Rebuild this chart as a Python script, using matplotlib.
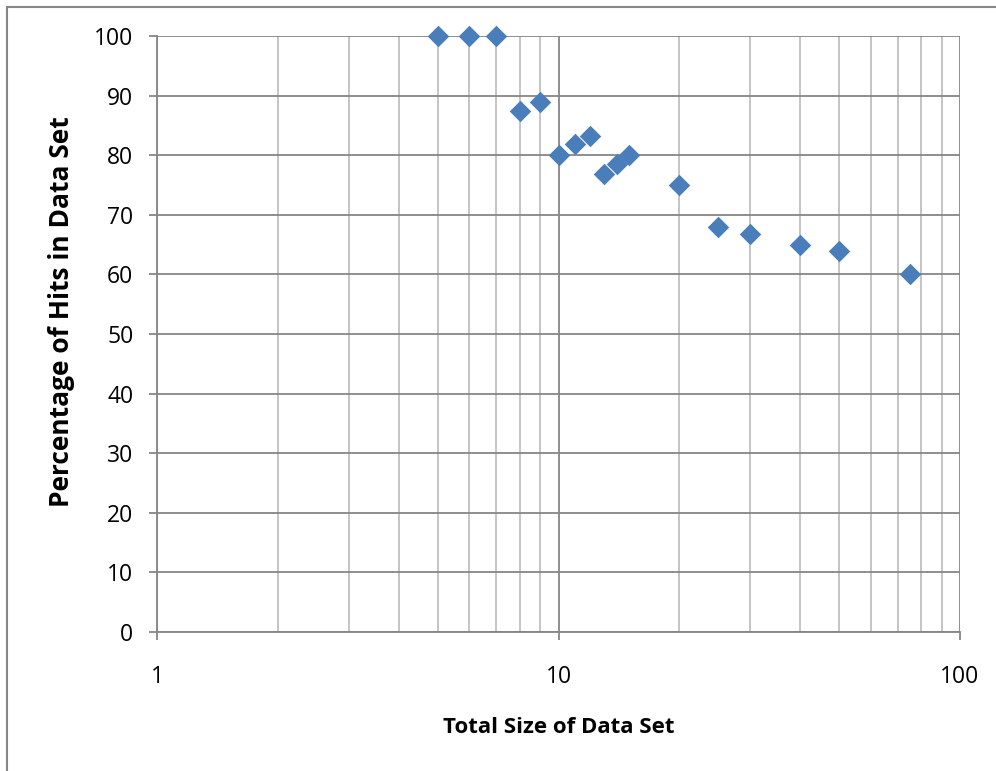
import matplotlib.pyplot as plt
from matplotlib.patches import Rectangle
from matplotlib.ticker import LogLocator, FixedLocator, NullFormatter

# ======== Data ========
total_size = [5, 6, 7, 8, 9, 10, 11, 12, 13, 14, 15, 20, 25, 30, 40, 50, 75]
pct_hits = [100, 100, 100, 87.5, 88.9, 80, 81.8, 83.3, 76.9, 78.6, 80, 75, 68, 66.7, 65, 64, 60]
x_ticks = [1, 10, 100]
x_tick_labels = ["1", "10", "100"]
y_ticks = list(range(0, 101, 10))

plt.rcParams['font.family'] = ['Open Sans', 'DejaVu Sans']

fig = plt.figure(figsize=(9.96, 7.71), dpi=100)
ax = fig.add_axes([157 / 996, 139 / 771, 803 / 996, 596 / 771])

ax.scatter(total_size, pct_hits, marker='D', s=120, color='#4a7ebb', zorder=3,
           clip_on=False, linewidths=0)

ax.set_xscale('log')
ax.set_xlim(1, 100)
ax.set_ylim(0, 100)

ax.xaxis.set_major_locator(FixedLocator(x_ticks))
ax.set_xticklabels(x_tick_labels)
ax.xaxis.set_minor_locator(LogLocator(base=10, subs=range(2, 10)))
ax.xaxis.set_minor_formatter(NullFormatter())
ax.set_yticks(y_ticks)

ax.grid(True, which='major', color='#868686', linewidth=1.3)
ax.grid(True, which='minor', axis='x', color='#bfbfbf', linewidth=1.3)
ax.set_axisbelow(True)

for side in ['top', 'right']:
    ax.spines[side].set_visible(False)
for side in ['left', 'bottom']:
    ax.spines[side].set_color('#868686')
    ax.spines[side].set_linewidth(1.3)

ax.tick_params(axis='both', which='major', direction='out', length=6, width=1.3,
               color='#868686', labelsize=16.5)
ax.tick_params(axis='x', which='minor', length=0)
ax.tick_params(axis='x', which='major', pad=18)
ax.tick_params(axis='y', which='major', pad=11)

ax.set_xlabel("Total Size of Data Set", fontsize=16, fontweight='bold', labelpad=20)
ax.set_ylabel("Percentage of Hits in Data Set", fontsize=19, fontweight='bold', labelpad=14)
ax.yaxis.label.set_y(0.537)

# outer chart border
fig.patches.append(Rectangle((7 / 996, -0.1), 1.2, 1.1 - 7 / 771, transform=fig.transFigure,
                             fill=False, edgecolor='#868686', linewidth=1.5))

fig.savefig("out.png", dpi=100)
